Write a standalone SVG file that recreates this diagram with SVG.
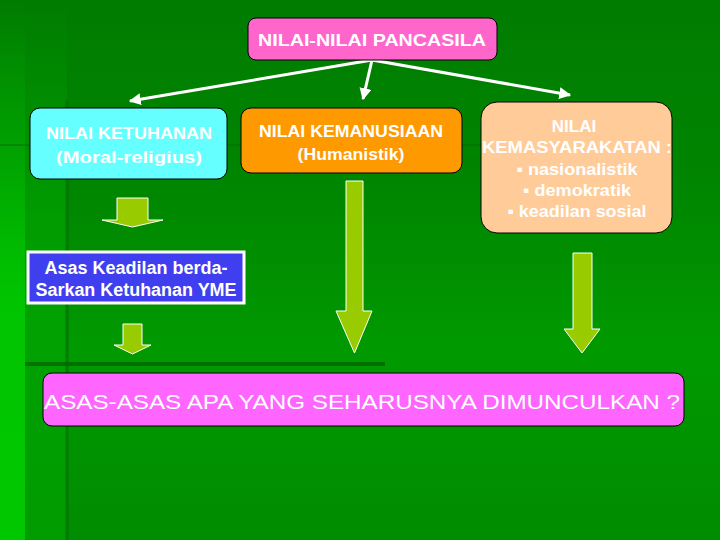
<svg xmlns="http://www.w3.org/2000/svg" width="720" height="540" viewBox="0 0 720 540">
<defs>
<linearGradient id="bg" x1="0" y1="0" x2="0" y2="1">
<stop offset="0" stop-color="#007c00"/>
<stop offset="0.35" stop-color="#008600"/>
<stop offset="0.65" stop-color="#009a00"/>
<stop offset="1" stop-color="#008c00"/>
</linearGradient>
<linearGradient id="strip" x1="0" y1="0" x2="0" y2="1">
<stop offset="0" stop-color="#00c400" stop-opacity="0"/>
<stop offset="0.3" stop-color="#00c400" stop-opacity="0.5"/>
<stop offset="0.55" stop-color="#00c400" stop-opacity="1"/>
<stop offset="1" stop-color="#00c800" stop-opacity="1"/>
</linearGradient>
<linearGradient id="strip2" x1="0" y1="0" x2="0" y2="1">
<stop offset="0" stop-color="#00a800" stop-opacity="0"/>
<stop offset="0.4" stop-color="#00a800" stop-opacity="0.6"/>
<stop offset="1" stop-color="#009c00" stop-opacity="1"/>
</linearGradient>
<marker id="ah" viewBox="0 0 10 10" refX="9" refY="5" markerWidth="4" markerHeight="4" orient="auto" markerUnits="strokeWidth">
<path d="M0,0 L10,5 L0,10 z" fill="#ffffff"/>
</marker>
<style>
.box{stroke:#000;stroke-width:1}
.t{font-family:"Liberation Sans",Arial,sans-serif;fill:#ffffff;text-anchor:middle}
.b{font-weight:bold}
.ba{fill:#99cc00;stroke:#ffffff;stroke-width:1}
.con{stroke:#ffffff;stroke-width:3;fill:none;marker-end:url(#ah)}
</style>
</defs>
<rect x="0" y="0" width="720" height="540" fill="url(#bg)"/>
<rect x="0" y="0" width="25" height="540" fill="url(#strip)"/>
<rect x="25" y="0" width="42" height="540" fill="url(#strip2)"/>
<line x1="67" y1="100" x2="67" y2="540" stroke="#006e00" stroke-width="3" opacity="0.7"/>
<line x1="25" y1="364" x2="385" y2="364" stroke="#006800" stroke-width="4" opacity="0.8"/>
<line x1="0" y1="145" x2="485" y2="145" stroke="#006e00" stroke-width="2" opacity="0.5"/>

<g id="connectors">
<line class="con" x1="372" y1="60" x2="130" y2="101"/>
<line class="con" x1="372" y1="60" x2="363" y2="99"/>
<line class="con" x1="372" y1="60" x2="570" y2="95"/>
</g>

<g id="pancasila">
<rect class="box" x="248" y="18" width="249" height="42" rx="8" fill="#ff66cc"/>
<text class="t b" x="372" y="46" font-size="17" textLength="228" lengthAdjust="spacingAndGlyphs">NILAI-NILAI PANCASILA</text>
</g>

<g id="ketuhanan">
<rect class="box" x="30" y="108" width="197" height="71" rx="10" fill="#66ffff"/>
<text class="t b" x="129" y="139" font-size="17" textLength="166" lengthAdjust="spacingAndGlyphs">NILAI KETUHANAN</text>
<text class="t b" x="129" y="163" font-size="17" textLength="146" lengthAdjust="spacingAndGlyphs">(Moral-religius)</text>
</g>

<g id="kemanusiaan">
<rect class="box" x="241" y="108" width="221" height="65" rx="10" fill="#ff9900"/>
<text class="t b" x="351" y="137" font-size="17" textLength="184" lengthAdjust="spacingAndGlyphs">NILAI KEMANUSIAAN</text>
<text class="t b" x="351" y="160" font-size="17" textLength="107" lengthAdjust="spacingAndGlyphs">(Humanistik)</text>
</g>

<g id="kemasyarakatan">
<rect class="box" x="481" y="102" width="191" height="131" rx="16" fill="#ffcc99"/>
<text class="t b" x="574" y="132" font-size="17">NILAI</text>
<text class="t b" x="577" y="153" font-size="17" textLength="190" lengthAdjust="spacingAndGlyphs">KEMASYARAKATAN :</text>
<text class="t b" x="577" y="175" font-size="17" textLength="121" lengthAdjust="spacingAndGlyphs">▪ nasionalistik</text>
<text class="t b" x="577" y="196" font-size="17" textLength="108" lengthAdjust="spacingAndGlyphs">▪ demokratik</text>
<text class="t b" x="577" y="217" font-size="17" textLength="139" lengthAdjust="spacingAndGlyphs">▪ keadilan sosial</text>
</g>

<g id="arrow1">
<path class="ba" d="M117,198 H148 V220 H163 L132.5,227 L102,220 H117 Z"/>
</g>

<g id="asas-keadilan">
<rect x="28" y="252" width="216" height="51" fill="#3f3fef" stroke="#ffffff" stroke-width="3"/>
<text class="t b" x="136" y="274" font-size="18" textLength="183" lengthAdjust="spacingAndGlyphs">Asas Keadilan berda-</text>
<text class="t b" x="136" y="296" font-size="18" textLength="201" lengthAdjust="spacingAndGlyphs">Sarkan Ketuhanan YME</text>
</g>

<g id="arrow2">
<path class="ba" d="M123,324 H142 V345 H151 L132.5,354 L114,345 H123 Z"/>
</g>

<g id="arrow3">
<path class="ba" d="M346,181 H363 V311 H372 L354.5,353 L336,311 H346 Z"/>
</g>

<g id="arrow4">
<path class="ba" d="M573,253 H592 V329 H600 L582,353 L564,329 H573 Z"/>
</g>

<g id="pertanyaan">
<rect class="box" x="43" y="373" width="641" height="53" rx="9" fill="#ff66ff"/>
<text class="t" x="362" y="409" font-size="21" textLength="636" lengthAdjust="spacingAndGlyphs">ASAS-ASAS APA YANG SEHARUSNYA DIMUNCULKAN ?</text>
</g>
</svg>
